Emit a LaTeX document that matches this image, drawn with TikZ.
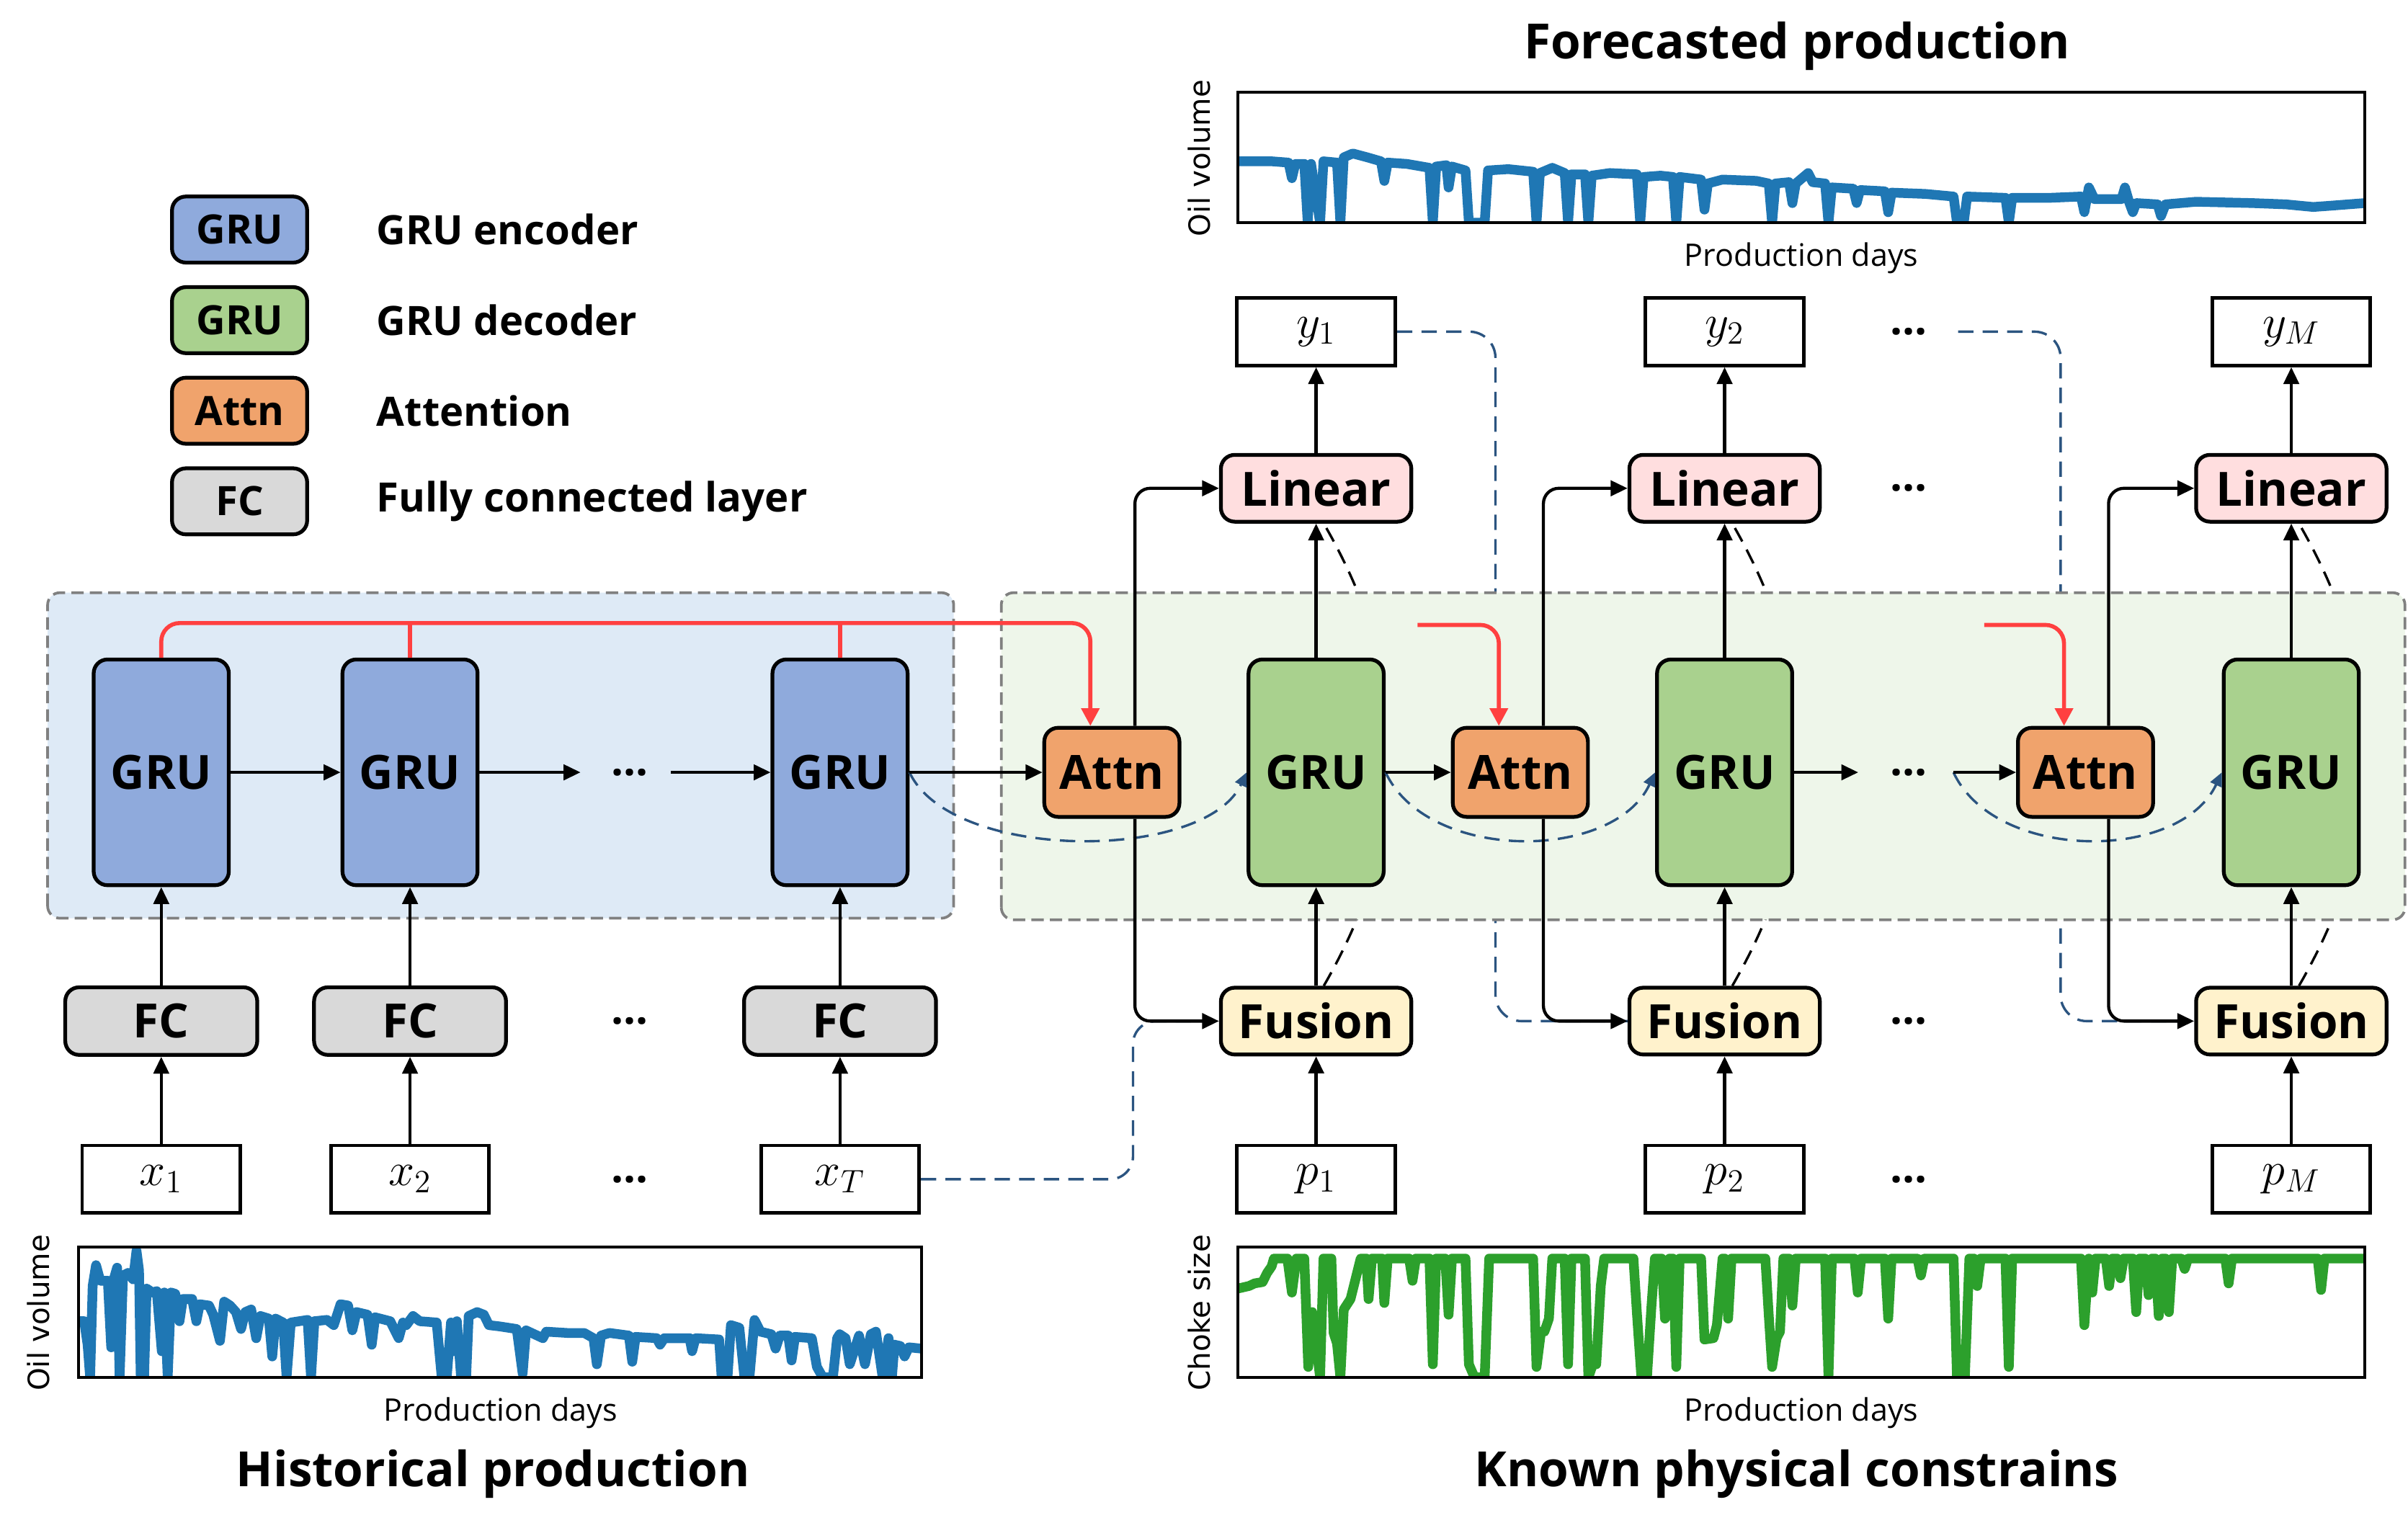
\documentclass[tikz,border=0pt]{standalone}
\usepackage{fontspec}
\setmainfont{Open Sans}
\newfontfamily\axisfont{DejaVu Sans}
\usetikzlibrary{arrows.meta}

\definecolor{encblue}{HTML}{8FAADC}
\definecolor{decgreen}{HTML}{A9D18E}
\definecolor{attnorange}{HTML}{F0A36C}
\definecolor{fcgray}{HTML}{D9D9D9}
\definecolor{linpink}{HTML}{FFDEDF}
\definecolor{fusyellow}{HTML}{FFF2CC}
\definecolor{encback}{HTML}{DEEAF6}
\definecolor{decback}{HTML}{EEF6EA}
\definecolor{skipred}{HTML}{FF4040}
\definecolor{skipblue}{HTML}{2B5480}
\definecolor{plotblue}{HTML}{1F77B4}
\definecolor{plotgreen}{HTML}{2CA02C}

\pgfdeclarelayer{hidden}
\pgfdeclarelayer{panel}
\pgfsetlayers{hidden,panel,main}

\begin{document}
\begin{tikzpicture}[x=0.2mm, y=0.2mm,
  block/.style={draw, line width=1.4pt, rounded corners=1.8mm, inner sep=0pt,
    font=\fontsize{17.5}{20}\selectfont\bfseries},
  gru/.style={block, minimum width=17.6mm, minimum height=29.4mm},
  attn/.style={block, fill=attnorange, minimum width=17.6mm, minimum height=11.6mm},
  wide/.style={block, minimum width=24.8mm, minimum height=8.7mm},
  key/.style={block, minimum width=17.6mm, minimum height=8.6mm,
    font=\fontsize{15}{18}\selectfont\bfseries},
  keytext/.style={anchor=west, inner sep=0pt, font=\fontsize{15}{18}\selectfont\bfseries},
  var/.style={draw, line width=1.3pt, minimum width=20.6mm, minimum height=8.8mm,
    inner sep=0pt, font=\fontsize{17.28}{20}\selectfont},
  dots/.style={font=\fontsize{16}{18}\selectfont\bfseries},
  arr/.style={line width=1.15pt, -{Triangle[length=2.2mm,width=2mm]}},
  skip/.style={skipred, line width=1.5pt},
  skiparr/.style={skip, -{Triangle[length=2.3mm,width=2.3mm]}},
  skipline/.style={skipblue, line width=0.9pt, dash pattern=on 2mm off 1.2mm},
  skiparc/.style={skipline, -{Triangle[length=1.8mm,width=1.6mm]}},
  statedash/.style={black, line width=0.9pt, dash pattern=on 2mm off 1.2mm},
  panelbox/.style={draw=gray, line width=1pt, dash pattern=on 1.6mm off 0.8mm,
    rounded corners=1.6mm},
  plotline/.style={line width=3.6pt, line join=round},
  axislabel/.style={font=\axisfont\fontsize{10.8}{13}\selectfont},
  daylabel/.style={font=\fontsize{11.5}{14}\selectfont},
  titlelabel/.style={font=\fontsize{18}{22}\selectfont\bfseries}]
\useasboundingbox (0,0) rectangle (1568,995);

% legend
\node[key, fill=encblue] (keyenc) at (156,845.5) {GRU};
\node[keytext] (keyenclabel) at (245,845.5) {GRU encoder};
\node[key, fill=decgreen] (keydec) at (156,786.5) {GRU};
\node[keytext] (keydeclabel) at (245,786.5) {GRU decoder};
\node[key, fill=attnorange] (keyattn) at (156,727.5) {Attn};
\node[keytext] (keyattnlabel) at (245,727.5) {Attention};
\node[key, fill=fcgray] (keyfc) at (156,668.5) {FC};
\node[keytext] (keyfclabel) at (245,668.5) {Fully connected layer};

% encoder
\node[gru, fill=encblue] (enc1) at (105,492) {GRU};
\node[gru, fill=encblue] (enc2) at (267,492) {GRU};
\node[gru, fill=encblue] (encT) at (547,492) {GRU};
\node[wide, fill=fcgray, minimum width=25mm, minimum height=8.8mm] (fc1) at (105,330) {FC};
\node[wide, fill=fcgray, minimum width=25mm, minimum height=8.8mm] (fc2) at (267,330) {FC};
\node[wide, fill=fcgray, minimum width=25mm, minimum height=8.8mm] (fcT) at (547,330) {FC};
\node[var] (x1) at (105,227) {$x_1$};
\node[var] (x2) at (267,227) {$x_2$};
\node[var] (xT) at (547,227) {$x_T$};
\node[dots] (encdots) at (410,492) {...};
\node[dots] (fcdots) at (410,330) {...};
\node[dots] (xdots) at (410,227) {...};

% decoder
\node[attn] (attn1) at (724,492) {Attn};
\node[gru, fill=decgreen] (dec1) at (857,492) {GRU};
\node[attn] (attn2) at (990,492) {Attn};
\node[gru, fill=decgreen] (dec2) at (1123,492) {GRU};
\node[attn] (attn3) at (1358,492) {Attn};
\node[gru, fill=decgreen] (dec3) at (1492,492) {GRU};
\node[wide, fill=linpink] (lin1) at (857,677) {Linear};
\node[wide, fill=linpink] (lin2) at (1123,677) {Linear};
\node[wide, fill=linpink] (lin3) at (1492,677) {Linear};
\node[wide, fill=fusyellow] (fus1) at (857,330) {Fusion};
\node[wide, fill=fusyellow] (fus2) at (1123,330) {Fusion};
\node[wide, fill=fusyellow] (fus3) at (1492,330) {Fusion};
\node[var] (y1) at (857,779) {$y_1$};
\node[var] (y2) at (1123,779) {$y_2$};
\node[var] (yM) at (1492,779) {$y_M$};
\node[var] (p1) at (857,227) {$p_1$};
\node[var] (p2) at (1123,227) {$p_2$};
\node[var] (pM) at (1492,227) {$p_M$};
\node[dots] (ydots) at (1243,779) {...};
\node[dots] (lindots) at (1243,677) {...};
\node[dots] (decdots) at (1243,492) {...};
\node[dots] (fusdots) at (1243,330) {...};
\node[dots] (pdots) at (1243,227) {...};

\coordinate (encgap1) at (378,492);
\coordinate (encgap2) at (437,492);
\coordinate (decgap1) at (1210,492);
\coordinate (decgap2) at (1272,492);
\coordinate (red2) at (923,588);
\coordinate (red3) at (1292,588);
\coordinate (ygap) at (1275,779);

% blue skip lines
\draw[skipline, rounded corners=3mm] (xT.east) -| ([xshift=-11.2mm]fus1.west) -- (fus1.west);
\draw[skiparc] (encT.east) to[out=-65, in=-115, distance=12.9mm] (dec1.west);
\draw[skiparc] (dec1.east) to[out=-65, in=-115, distance=12.9mm] (dec2.west);
\draw[skiparc] (decgap2) to[out=-65, in=-115, distance=12.9mm] (dec3.west);

% black arrows
\foreach \i in {1,2,T} {
  \draw[arr] (x\i) -- (fc\i);
  \draw[arr] (fc\i) -- (enc\i);
}
\foreach \i/\o in {1/1,2/2,3/M} {
  \draw[arr] (p\o) -- (fus\i);
  \draw[arr] (fus\i) -- (dec\i);
  \draw[arr] (dec\i) -- (lin\i);
  \draw[arr] (lin\i) -- (y\o);
  \draw[arr, rounded corners=2mm] ([xshift=3mm]attn\i.north) |- (lin\i.west);
  \draw[arr, rounded corners=2mm] ([xshift=3mm]attn\i.south) |- (fus\i.west);
}
\draw[arr] (enc1) -- (enc2);
\draw[arr] (enc2) -- (encgap1);
\draw[arr] (encgap2) -- (encT);
\draw[arr] (encT) -- (attn1);
\draw[arr] (dec1) -- (attn2);
\draw[arr] (dec2) -- (decgap1);
\draw[arr] (decgap2) -- (attn3);

% red lines
\draw[skiparr, rounded corners=2.4mm] (enc1.north) |- ([xshift=-2.8mm,yshift=13.4mm]attn1.north)
  -- ([xshift=-2.8mm]attn1.north);
\draw[skip] (enc2.north) -- ++(0,22.5);
\draw[skip] (encT.north) -- ++(0,22.5);
\draw[skiparr, rounded corners=2.4mm] (red2) -| ([xshift=-2.8mm]attn2.north);
\draw[skiparr, rounded corners=2.4mm] (red3) -| ([xshift=-2.8mm]attn3.north);

% lines behind the decoder panel
\begin{pgfonlayer}{hidden}
\draw[skipline, rounded corners=3.4mm] (y1.east) -| ([xshift=-17.2mm]fus2.west) -- (fus2.west);
\draw[skipline, rounded corners=3.4mm] (ygap) -| ([xshift=-17.4mm]fus3.west) -- (fus3.west);
\foreach \i in {1,2,3}
  \draw[statedash] ([xshift=1mm]fus\i.north) to[out=60, in=-60] ([xshift=1mm]lin\i.south);
\end{pgfonlayer}

\begin{pgfonlayer}{panel}
\draw[panelbox, fill=encback] (31,397) rectangle (621,609);
\draw[panelbox, fill=decback] (652,396) rectangle (1566,609);
\end{pgfonlayer}

% forecasted production
\begin{scope}
\clip (806,850) rectangle (1540,935);
\draw[plotline, plotblue, shift={(806,850)}, xscale=7.34, yscale=85]
  (0,.47) -- (3,.47) -- (4.5,.46) -- (4.8,.34) -- (5.1,.45) -- (5.9,.45) -- (6.2,0)
  -- (6.5,.45) -- (7.3,0) -- (7.6,.47) -- (8.8,.46) -- (9.1,0) -- (9.4,.5) -- (10.2,.53)
  -- (11.5,.5) -- (12.7,.47) -- (13,.32) -- (13.3,.46) -- (15,.45) -- (17,.42) -- (17.3,0)
  -- (17.6,.43) -- (18.5,.44) -- (18.7,.27) -- (19,.43) -- (20.2,.40) -- (20.5,0) -- (21.9,0)
  -- (22.2,.40) -- (24,.41) -- (26.2,.39) -- (26.5,0) -- (26.8,.38) -- (27.9,.42) -- (29,.38)
  -- (29.3,0) -- (29.6,.37) -- (30.8,.37) -- (31.1,0) -- (31.4,.36) -- (33,.38) -- (35.4,.37)
  -- (35.7,0) -- (36,.35) -- (37.5,.36) -- (38.6,.35) -- (38.9,0) -- (39.2,.35) -- (41.1,.33)
  -- (41.4,.1) -- (41.7,.3) -- (43,.33) -- (46,.32) -- (47.1,.30) -- (47.4,0) -- (47.7,.30)
  -- (48.9,.31) -- (49.2,.15) -- (49.5,.30) -- (50.6,.38) -- (51,.31) -- (52.1,.3) -- (52.4,0)
  -- (52.7,.27) -- (54.6,.26) -- (54.9,.15) -- (55.2,.25) -- (57.4,.24) -- (57.7,.08)
  -- (58,.23) -- (61,.22) -- (63.5,.2) -- (63.8,0) -- (64.4,0) -- (64.7,.2) -- (68.1,.19)
  -- (68.4,0) -- (68.7,.19) -- (72,.19) -- (74.8,.2) -- (75.1,.08) -- (75.5,.27) -- (76,.18)
  -- (78.4,.18) -- (78.7,.27) -- (79.1,.15) -- (79.4,.08) -- (79.7,.15) -- (81.6,.14)
  -- (81.9,.05) -- (82.3,.14) -- (85,.16) -- (90,.15) -- (93,.14) -- (95.4,.12) -- (97,.13)
  -- (100,.15);
\end{scope}
\draw[line width=1.1pt] (806,850) rectangle (1540,935);
\node[axislabel, rotate=90] (fcylabel) at (781,892) {Oil volume};
\node[daylabel] (fcxlabel) at (1173,827) {Production days};
\node[titlelabel] (fctitle) at (1170,965) {Forecasted production};

% historical production
\begin{scope}
\clip (51,98) rectangle (600,183);
\draw[plotline, plotblue, shift={(51,98)}, xscale=5.49, yscale=85]
  (0,.43) -- (0.7,.43) -- (1.1,.25) -- (1.4,0) -- (1.7,.7) -- (2.1,.86) -- (2.6,.74)
  -- (3.5,.74) -- (3.9,.23) -- (4.2,.75) -- (4.6,.84) -- (4.9,0) -- (5.3,.78) -- (5.9,.8)
  -- (6.5,.75) -- (6.9,.97) -- (7.2,.82) -- (7.4,0) -- (7.8,0) -- (8.1,.68) -- (8.8,.65)
  -- (9.3,.66) -- (9.9,.2) -- (10.2,.65) -- (10.6,0) -- (11,.65) -- (11.5,.64) -- (12,.43)
  -- (12.4,.6) -- (13.5,.6) -- (14,.43) -- (14.4,.56) -- (15.5,.55) -- (16,.48) -- (16.8,.28)
  -- (17.3,.58) -- (18,.55) -- (18.7,.5) -- (19.3,.37) -- (19.8,.5) -- (20.5,.52) -- (21.1,.30)
  -- (21.6,.47) -- (22.6,.45) -- (23,.16) -- (23.4,.45) -- (24.3,.42) -- (24.7,0) -- (25.2,.42)
  -- (26.2,.43) -- (27.2,.44) -- (27.6,0) -- (28,.43) -- (29.5,.44) -- (30.3,.4) -- (31.1,.56)
  -- (32,.55) -- (32.5,.36) -- (33,.5) -- (34.3,.48) -- (34.8,.25) -- (35.2,.46) -- (37,.43)
  -- (38,.3) -- (38.5,.42) -- (38.9,.4) -- (39.7,.47) -- (40.5,.43) -- (42.5,.42) -- (43.1,0)
  -- (43.7,0) -- (44.2,.42) -- (44.5,.2) -- (44.9,.43) -- (45.4,0) -- (46,0) -- (46.3,.47)
  -- (47.3,.5) -- (48.1,.48) -- (48.7,.4) -- (50,.39) -- (52,.37) -- (52.7,.03) -- (53.1,.36)
  -- (55.1,.3) -- (55.5,.35) -- (58,.34) -- (60,.34) -- (61.1,.3) -- (61.5,.1) -- (62,.32)
  -- (63,.34) -- (65.3,.32) -- (65.7,.12) -- (66.1,.31) -- (68.6,.3) -- (69,.25) -- (69.5,.3)
  -- (72.5,.3) -- (72.8,.2) -- (73.2,.3) -- (76,.29) -- (76.3,0) -- (77,0) -- (77.4,.4)
  -- (78.4,.38) -- (79,0) -- (79.6,0) -- (80.2,.44) -- (80.9,.35) -- (82.2,.33) -- (82.7,.22)
  -- (83.2,.32) -- (84.2,.32) -- (84.6,.13) -- (85,.31) -- (87,.3) -- (87.6,.08) -- (88.3,0)
  -- (89.5,0) -- (90,.3) -- (90.3,.33) -- (91,.3) -- (91.5,.1) -- (92.6,.32) -- (93.3,.1)
  -- (94,.33) -- (94.6,.35) -- (95.4,0) -- (96.1,.3) -- (96.5,0) -- (96.8,.25) -- (97.5,.24)
  -- (98,.16) -- (98.5,.23) -- (100,.22);
\end{scope}
\draw[line width=1.1pt] (51,98) rectangle (600,183);
\node[axislabel, rotate=90] (histylabel) at (25,140) {Oil volume};
\node[daylabel] (histxlabel) at (326,75) {Production days};
\node[titlelabel] (histtitle) at (321,35) {Historical production};

% known physical constrains
\begin{scope}
\clip (806,98) rectangle (1540,183);
\draw[plotline, plotgreen, shift={(806,98)}, xscale=7.34, yscale=85]
  (0,.68) -- (1,.7) -- (1.5,.72) -- (2.2,.73) -- (2.6,.80) -- (3,.85) -- (3.2,.91) -- (4.4,.91)
  -- (4.8,.65) -- (5.2,.91) -- (5.9,.91) -- (6.25,.08) -- (6.6,.5) -- (7.3,0) -- (7.6,.91)
  -- (8.3,.91) -- (8.5,.34) -- (8.8,.26) -- (9.1,0) -- (9.4,.52) -- (10,.6) -- (10.9,.91)
  -- (11.4,.91) -- (11.6,.6) -- (11.9,.91) -- (12.8,.91) -- (13,.57) -- (13.3,.91) -- (15.2,.91)
  -- (15.5,.74) -- (15.8,.91) -- (17,.91) -- (17.3,.1) -- (17.6,.91) -- (18.4,.91) -- (18.7,.48)
  -- (19,.91) -- (20.2,.91) -- (20.5,.1) -- (21,0) -- (21.9,0) -- (22.3,.91) -- (26.2,.91)
  -- (26.5,.08) -- (26.9,.35) -- (27.2,.35) -- (27.6,.45) -- (27.9,.91) -- (29,.91) -- (29.3,.1)
  -- (29.6,.91) -- (30.8,.91) -- (31.1,0) -- (31.5,.1) -- (31.8,.1) -- (32.2,.7) -- (32.5,.91)
  -- (35.1,.91) -- (35.4,.5) -- (35.8,0) -- (36.3,0) -- (36.7,.55) -- (37,.91) -- (37.6,.91)
  -- (37.9,.45) -- (38.3,.91) -- (38.6,.91) -- (38.9,.08) -- (39.2,.91) -- (41.1,.91) -- (41.4,.29)
  -- (42.2,.3) -- (42.5,.4) -- (43,.91) -- (43.2,.91) -- (43.5,.45) -- (43.8,.91) -- (46.8,.91)
  -- (47.1,.48) -- (47.4,.08) -- (47.8,.3) -- (48.1,.35) -- (48.4,.91) -- (48.9,.91) -- (49.2,.55)
  -- (49.5,.91) -- (52.1,.91) -- (52.4,0) -- (52.7,.91) -- (54.7,.91) -- (55,.65) -- (55.3,.91)
  -- (57.4,.91) -- (57.7,.45) -- (58,.91) -- (60.3,.91) -- (60.6,.78) -- (60.9,.91) -- (63.5,.91)
  -- (63.8,0) -- (64.5,0) -- (64.9,.91) -- (65.3,.91) -- (65.6,.7) -- (65.9,.91) -- (68.1,.91)
  -- (68.4,.08) -- (68.7,.91) -- (74.8,.91) -- (75.1,.4) -- (75.5,.91) -- (75.8,.65) -- (76.1,.91)
  -- (77,.91) -- (77.3,.7) -- (77.6,.91) -- (78,.91) -- (78.3,.76) -- (78.6,.91) -- (79.4,.91)
  -- (79.7,.5) -- (80,.91) -- (80.5,.91) -- (80.8,.63) -- (81.1,.91) -- (81.4,.91) -- (81.7,.47)
  -- (82,.91) -- (82.3,.91) -- (82.6,.5) -- (82.9,.91) -- (83.7,.91) -- (84,.83) -- (84.3,.91)
  -- (87.6,.91) -- (87.9,.72) -- (88.2,.91) -- (95.8,.91) -- (96.1,.67) -- (96.4,.91) -- (100,.91);
\end{scope}
\draw[line width=1.1pt] (806,98) rectangle (1540,183);
\node[axislabel, rotate=90] (chokeylabel) at (781,140) {Choke size};
\node[daylabel] (chokexlabel) at (1173,75) {Production days};
\node[titlelabel] (choketitle) at (1170,35) {Known physical constrains};
\end{tikzpicture}
\end{document}
